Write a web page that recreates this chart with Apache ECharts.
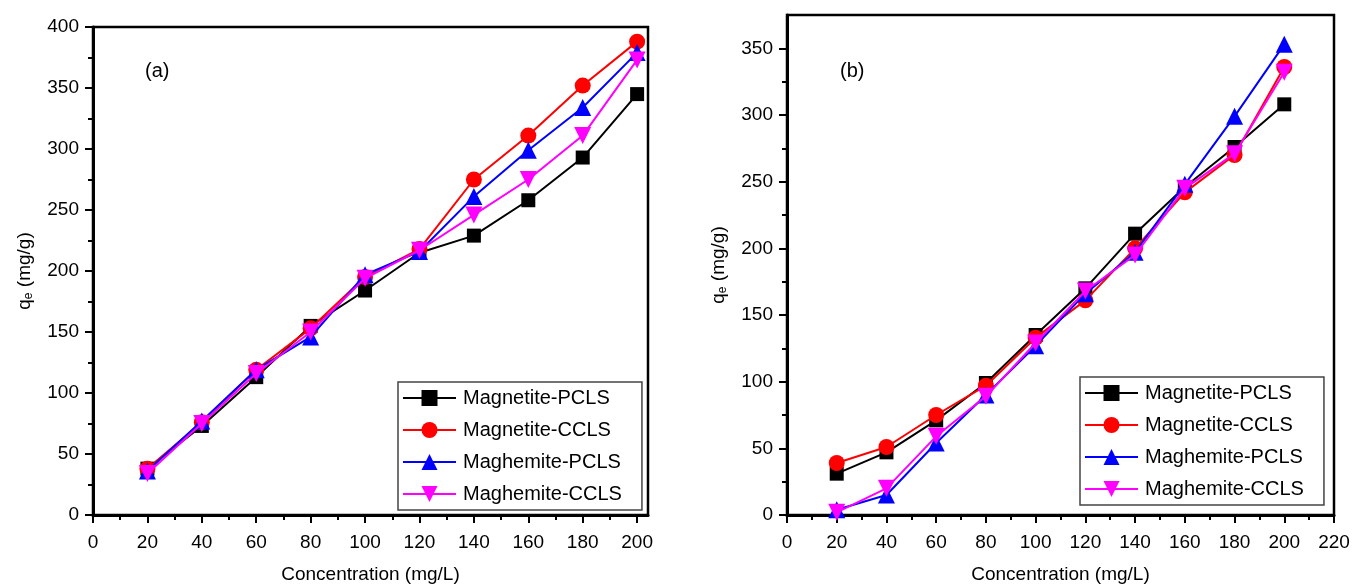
<!DOCTYPE html>
<html>
<head>
<meta charset="utf-8">
<script src="https://cdn.jsdelivr.net/npm/echarts@6/dist/echarts.min.js"></script>
<style>
html,body{margin:0;padding:0;background:#fff;}
#chart{width:1354px;height:585px;}
</style>
</head>
<body>
<div id="chart"></div>
<script>
// ---- data ----
const concentrations = [20, 40, 60, 80, 100, 120, 140, 160, 180, 200];
const seriesNames = ['Magnetite-PCLS', 'Magnetite-CCLS', 'Maghemite-PCLS', 'Maghemite-CCLS'];

// panel (a)
const aMagnetitePCLS = [38, 73, 113, 155, 184, 215, 229, 258, 293, 345];
const aMagnetiteCCLS = [38, 76, 119, 153, 195, 218, 275, 311, 352, 388];
const aMaghemitePCLS = [36, 77, 119, 146, 197, 216, 261, 299, 334, 379];
const aMaghemiteCCLS = [34, 75, 116, 150, 194, 217, 246, 275, 311, 373];

// panel (b)
const bMagnetitePCLS = [31, 47, 71, 99, 135, 170, 211, 246, 276, 308];
const bMagnetiteCCLS = [39, 51, 75, 97, 133, 161, 200, 242, 270, 336];
const bMaghemitePCLS = [4, 15, 54, 90, 127, 166, 197, 248, 299, 353];
const bMaghemiteCCLS = [2, 20, 59, 89, 129, 168, 195, 245, 271, 332];

// tick values
const aXMajor = [0, 20, 40, 60, 80, 100, 120, 140, 160, 180, 200];
const aXMinor = [10, 30, 50, 70, 90, 110, 130, 150, 170, 190];
const bXMajor = [0, 20, 40, 60, 80, 100, 120, 140, 160, 180, 200, 220];
const bXMinor = [10, 30, 50, 70, 90, 110, 130, 150, 170, 190, 210];
const aYMajor = [0, 50, 100, 150, 200, 250, 300, 350, 400];
const aYMinor = [25, 75, 125, 175, 225, 275, 325, 375];
const bYMajor = [0, 50, 100, 150, 200, 250, 300, 350];
const bYMinor = [25, 75, 125, 175, 225, 275, 325];

const panelLabels = ['(a)', '(b)'];
const xAxisTitle = 'Concentration (mg/L)';

// ---- styling ----
const FONT = 'Liberation Sans, Arial, Helvetica, sans-serif';
const colors = ['#000000', '#ff0000', '#0000ff', '#ff00ff'];
const symbols = ['rect', 'circle', 'triangle', 'triangle'];
const symbolSizes = [14, 16, 17, 17];
const symbolRotates = [0, 0, 0, 180];

function pairs(vals) { return concentrations.map((c, i) => [c, vals[i]]); }

function makeSeries(dataArr, axisIdx) {
  return dataArr.map((vals, i) => ({
    name: seriesNames[i],
    type: 'line',
    xAxisIndex: axisIdx,
    yAxisIndex: axisIdx,
    data: pairs(vals),
    symbol: symbols[i],
    symbolSize: symbolSizes[i],
    symbolRotate: symbolRotates[i],
    showAllSymbol: true,
    lineStyle: { color: colors[i], width: 2 },
    itemStyle: { color: colors[i] },
    emphasis: { disabled: true },
    animation: false,
    z: 2 + i
  }));
}

function xAxis(gridIndex, max, major) {
  return {
    type: 'value', gridIndex, min: 0, max, interval: 20, position: 'bottom',
    name: xAxisTitle, nameLocation: 'middle', nameGap: 50,
    nameTextStyle: { color: '#000', fontSize: 19, fontFamily: FONT },
    axisLine: { show: true, onZero: false, lineStyle: { color: '#000', width: 3 } },
    axisTick: { show: true, inside: false, length: 8, customValues: major, lineStyle: { color: '#000', width: 2 } },
    minorTick: { show: false },
    axisLabel: { color: '#000', fontSize: 19, fontFamily: FONT, margin: 18, showMaxLabel: max % 20 === 0 },
    splitLine: { show: false }
  };
}
function xAxisMinor(gridIndex, max, minor) {
  return {
    type: 'value', gridIndex, min: 0, max, interval: 10, position: 'bottom', offset: 0,
    axisLine: { show: false, onZero: false },
    axisTick: { show: true, inside: false, length: 5, customValues: minor, lineStyle: { color: '#000', width: 2 } },
    axisLabel: { show: false },
    splitLine: { show: false }
  };
}

function yAxis(gridIndex, max, major) {
  return {
    type: 'value', gridIndex, min: 0, max, interval: 50, position: 'left',
    name: '{q|q}{e|e}{q| (mg/g)}', nameLocation: 'middle', nameGap: 58,
    nameTextStyle: {
      color: '#000', fontFamily: FONT,
      rich: {
        q: { fontSize: 19, fontFamily: FONT, color: '#000' },
        e: { fontSize: 12, fontFamily: FONT, color: '#000', verticalAlign: 'bottom', padding: [9, 0, 0, 0] }
      }
    },
    axisLine: { show: true, onZero: false, lineStyle: { color: '#000', width: 3 } },
    axisTick: { show: true, inside: false, length: 8, customValues: major, lineStyle: { color: '#000', width: 2 } },
    minorTick: { show: false },
    axisLabel: { color: '#000', fontSize: 19, fontFamily: FONT, margin: 14, showMaxLabel: max % 50 === 0 },
    splitLine: { show: false }
  };
}
function yAxisMinor(gridIndex, max, minor) {
  return {
    type: 'value', gridIndex, min: 0, max, interval: 25, position: 'left', offset: 0,
    axisLine: { show: false, onZero: false },
    axisTick: { show: true, inside: false, length: 5, customValues: minor, lineStyle: { color: '#000', width: 2 } },
    axisLabel: { show: false },
    splitLine: { show: false }
  };
}

function legend(left, top) {
  return {
    data: seriesNames,
    orient: 'vertical',
    left, top,
    itemWidth: 53, itemHeight: 20, itemGap: 12,
    padding: [6, 20, 6, 4],
    borderColor: '#444', borderWidth: 1.5,
    backgroundColor: '#fff',
    textStyle: { color: '#000', fontSize: 20, fontFamily: FONT, padding: [0, 0, 0, 2] },
    selectedMode: false,
    z: 10
  };
}

const gridCommon = { show: true, borderColor: '#000', borderWidth: 2.5, backgroundColor: 'transparent', containLabel: false, outerBoundsMode: 'none' };

const chart = echarts.init(document.getElementById('chart'), null, { renderer: 'canvas' });
chart.setOption({
  backgroundColor: '#ffffff',
  animation: false,
  grid: [
    Object.assign({ left: 93, top: 27, width: 555, height: 488 }, gridCommon),
    Object.assign({ left: 787, top: 15, width: 547, height: 500 }, gridCommon)
  ],
  xAxis: [xAxis(0, 204, aXMajor), xAxis(1, 220, bXMajor), xAxisMinor(0, 204, aXMinor), xAxisMinor(1, 220, bXMinor)],
  yAxis: [yAxis(0, 400, aYMajor), yAxis(1, 375, bYMajor), yAxisMinor(0, 400, aYMinor), yAxisMinor(1, 375, bYMinor)],
  legend: [legend(398, 382), legend(1080, 377)],
  graphic: [
    { type: 'text', left: 145, top: 61, style: { text: panelLabels[0], fontSize: 20, fontFamily: FONT, fill: '#000' } },
    { type: 'text', left: 840, top: 61, style: { text: panelLabels[1], fontSize: 20, fontFamily: FONT, fill: '#000' } }
  ],
  series: [
    ...makeSeries([aMagnetitePCLS, aMagnetiteCCLS, aMaghemitePCLS, aMaghemiteCCLS], 0),
    ...makeSeries([bMagnetitePCLS, bMagnetiteCCLS, bMaghemitePCLS, bMaghemiteCCLS], 1)
  ]
});
</script>
</body>
</html>
